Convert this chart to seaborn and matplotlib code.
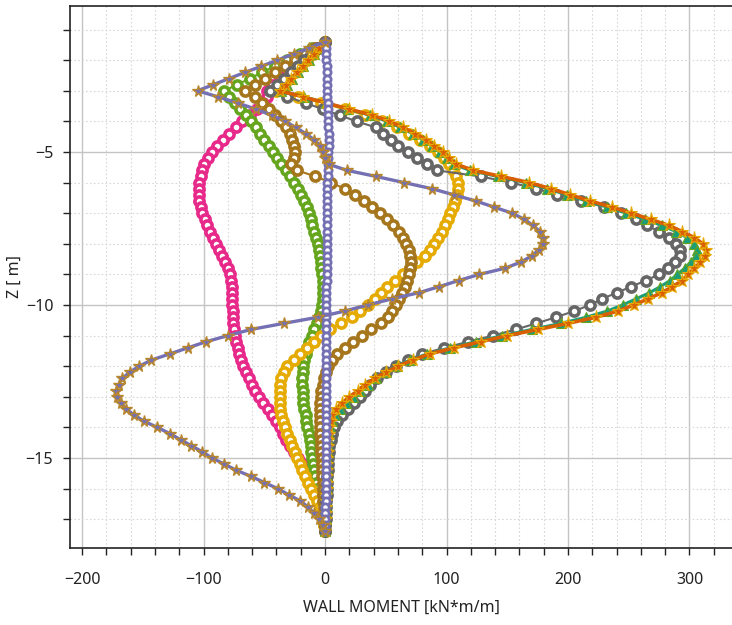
import matplotlib
matplotlib.use("Agg")
import matplotlib.pyplot as plt
from matplotlib.ticker import MultipleLocator
import seaborn as sns
import pandas as pd

sns.set_theme(style="white")
plt.rcParams['font.family'] = ['Noto Sans', 'DejaVu Sans']

# depth of the calculation points [m]
depth = [-1.4, -1.6, -1.8, -2.0, -2.2, -2.4, -2.6, -2.8, -3.0, -3.2,
         -3.4, -3.6, -3.8, -4.0, -4.2, -4.4, -4.6, -4.8, -5.0, -5.2,
         -5.4, -5.6, -5.8, -6.0, -6.2, -6.4, -6.6, -6.8, -7.0, -7.2,
         -7.4, -7.6, -7.8, -8.0, -8.2, -8.4, -8.6, -8.8, -9.0, -9.2,
         -9.4, -9.6, -9.8, -10.0, -10.2, -10.4, -10.6, -10.8, -11.0, -11.2,
         -11.4, -11.6, -11.8, -12.0, -12.2, -12.4, -12.6, -12.8, -13.0, -13.2,
         -13.4, -13.6, -13.8, -14.0, -14.2, -14.4, -14.6, -14.8, -15.0, -15.2,
         -15.4, -15.6, -15.8, -16.0, -16.2, -16.4, -16.6, -16.8, -17.0, -17.2,
         -17.4]

# wall moment for each phase [kN*m/m]
m_pink = [0, -6, -12.5, -19, -25, -31, -37.5, -44, -48, -48,
          -51, -56, -62, -68, -73.5, -79, -84, -89, -93, -96.5,
          -99.5, -101, -102.5, -103.5, -104, -104, -103.5, -102.5, -101, -99,
          -97, -95, -92.5, -90, -87, -84.5, -82, -80, -78.5, -77.5,
          -77, -76.5, -76.5, -76.5, -76, -76, -75.5, -75, -74, -73,
          -72, -71, -69.5, -67.5, -65, -62.5, -60, -57.5, -54.5, -51,
          -47, -43.5, -40.5, -37.5, -34.5, -32, -29, -26, -22, -18.5,
          -15.5, -13, -11, -9, -7, -5.5, -4, -2.8, -1.8, -0.8,
          0]

m_green = [0, -10.4, -20.8, -31, -41.5, -52, -62, -72.5, -83, -79,
           -74, -70, -65.5, -61, -57, -53.5, -50, -46.5, -43, -39.5,
           -36, -32.5, -29, -25.5, -22, -19.5, -17, -15, -13.5, -12,
           -10.5, -9, -7.5, -6, -5, -4, -3.5, -3, -2.5, -2,
           -1.8, -1.8, -2, -2.5, -3.5, -5, -7, -9, -11, -13,
           -14.5, -16, -17, -18, -18.5, -19, -19, -18.5, -18.5, -18,
           -17, -16, -15.5, -14.5, -13.5, -12.8, -12, -11.2, -10.5, -9.8,
           -9, -8.2, -7.5, -6.5, -5.5, -4.8, -4, -3, -2, -1,
           0]

m_yellow = [0, -5, -10, -15, -20, -25, -30, -35, -40, -22,
            -3, 16, 33, 47, 59, 69, 78, 86, 93, 98,
            102, 105, 108, 109.5, 109.5, 108.5, 107, 105, 103, 101,
            98.5, 96, 93, 90, 86, 82, 76, 70, 64, 57.5,
            51, 46, 41, 35, 29, 22, 13, 4, -3, -9,
            -15, -21, -26, -31, -34, -36, -37, -37.5, -37.5, -37.5,
            -37, -36, -34.5, -33, -31, -29, -27, -25, -23, -21,
            -19, -16.5, -14, -11.5, -9, -6.5, -4.5, -3, -1.6, -0.7,
            0]

m_brown = [0, -8, -16.5, -25, -33, -41.5, -49.5, -58, -66, -58,
           -52, -46, -41, -36, -32, -29, -27, -25.5, -25, -26,
           -28, -23, -8, 5, 16, 25, 32, 39, 45, 51,
           56, 60.5, 64, 67, 69, 70, 70.5, 70, 69, 67.5,
           65.5, 63, 60.5, 58, 55.5, 52, 46, 38, 30, 23,
           16, 10, 5.5, 2.5, 0.5, -1, -2, -3, -3.5, -4,
           -4, -4, -4, -4, -3.8, -3.5, -3.2, -3, -2.8, -2.6,
           -2.4, -2.2, -2, -1.8, -1.6, -1.4, -1.2, -0.9, -0.6, -0.3,
           0]

m_gray = [0, -5.6, -11.3, -17, -22.5, -28, -34, -39.5, -45, -31,
          -16, -2, 12, 26, 42, 48, 54, 60, 68, 76,
          84, 92, 128, 153, 174, 191, 211, 230, 244, 256,
          265, 275, 283, 289, 292, 292, 288, 282, 275, 264,
          252, 240, 228, 218, 205, 190, 174, 157, 138, 118,
          98, 80, 68, 58, 50, 43, 37, 33, 29, 24,
          19, 14, 10, 7, 5.5, 4.5, 3.5, 3, 2.6, 2.3,
          2, 1.8, 1.6, 1.4, 1.2, 1, 0.8, 0.6, 0.4, 0.2,
          0]

m_teal = [0, -4.5, -9, -13.5, -18, -22.5, -27, -31.5, -36, -17,
          1, 19, 37, 51, 62, 72, 81, 88, 95, 100,
          106, 119, 142, 165, 183, 199, 215, 232, 248, 263,
          277, 289, 298, 304, 306, 305, 301, 296, 290, 284,
          276, 267, 256, 245, 232, 215, 194, 170, 146, 124,
          103, 84, 70, 59, 50, 42, 35, 29, 23, 17,
          12, 8, 5.5, 4, 3.2, 2.7, 2.4, 2.1, 1.9, 1.7,
          1.5, 1.4, 1.3, 1.2, 1, 0.9, 0.8, 0.6, 0.4, 0.2,
          0]

m_orange = [0, -4.6, -9.3, -14, -18.5, -23, -28, -32, -37, -18,
            1, 20, 39, 53, 64, 74, 83, 90, 97, 102,
            108, 122, 145, 168, 186, 202, 218, 236, 252, 268,
            283, 294, 304, 311, 314, 313, 309, 304, 299, 294,
            286, 277, 266, 254, 241, 223, 200, 175, 150, 128,
            106, 86, 72, 60, 50, 41, 33, 27, 20, 14,
            9, 6, 4.5, 3.5, 3, 2.5, 2.2, 2, 1.8, 1.6,
            1.5, 1.4, 1.3, 1.2, 1, 0.9, 0.8, 0.6, 0.4, 0.2,
            0]

m_purple = [0, 0.5, 0.8, 1, 1.2, 1.3, 1.4, 1.5, 1.6, 1.8,
            2, 2.2, 2.4, 2.6, 2.8, 3, 3, 3, 2.8, 2.6,
            2.4, 2.2, 2, 1.9, 1.8, 1.7, 1.6, 1.5, 1.5, 1.4,
            1.4, 1.4, 1.3, 1.3, 1.3, 1.2, 1.2, 1.2, 1.2, 1.2,
            1.1, 1.1, 1.1, 1, 1, 1, 1, 1, 1, 1,
            1, 1, 1, 1, 1, 1, 1, 0.9, 0.9, 0.9,
            0.9, 0.9, 0.8, 0.8, 0.8, 0.8, 0.7, 0.7, 0.7, 0.7,
            0.6, 0.6, 0.5, 0.5, 0.4, 0.4, 0.3, 0.2, 0.2, 0.1,
            0]

m_star = [0, -13, -26, -39.5, -52.5, -66, -79, -92, -105, -88,
          -72, -57, -44, -33, -24, -16, -9, -4, -1.5, 0,
          3, 18, 42, 65, 88, 106, 124, 139, 154, 164,
          171, 177, 179, 179, 176, 170, 161, 148, 127, 110,
          94, 77, 55, 35, 16, -6, -34, -61, -80, -98,
          -113, -128, -143, -153, -161, -167, -170, -172, -171, -168,
          -164, -157, -149, -138, -128, -119, -110, -101, -93, -83,
          -73, -61, -50, -39, -30, -20.5, -14, -9, -5, -2,
          0]

fig = plt.figure(figsize=(7.32, 6.25), dpi=100)
ax = fig.add_axes([70 / 732, 1 - 548 / 625, 662 / 732, 542 / 625])

# hollow-marker series, drawn back to front
hollow = [
    (m_pink, '#e7298a'),
    (m_green, '#66a61e'),
    (m_yellow, '#e6ab02'),
    (m_brown, '#a6761d'),
    (m_gray, '#666666'),
]
for vals, col in hollow:
    df = pd.DataFrame({'M': vals, 'Z': depth})
    sns.lineplot(data=df, x='M', y='Z', sort=False, estimator=None, orient='y',
                 color=col, lw=1.5, marker='o', markersize=6.6,
                 markerfacecolor='white', markeredgecolor=col,
                 markeredgewidth=2.6, ax=ax)

df = pd.DataFrame({'M': m_teal, 'Z': depth})
sns.lineplot(data=df, x='M', y='Z', sort=False, estimator=None, orient='y',
             color='#1b9e77', lw=2.2, marker='^', markersize=6.5,
             markerfacecolor='#1b9e77', markeredgecolor='#66a61e',
             markeredgewidth=0.8, ax=ax)

df = pd.DataFrame({'M': m_orange, 'Z': depth})
sns.lineplot(data=df, x='M', y='Z', sort=False, estimator=None, orient='y',
             color='#d95f02', lw=2.6, marker='*', markersize=9.5,
             markerfacecolor='#d95f02', markeredgecolor='#e6ab02',
             markeredgewidth=0.8, ax=ax)

df = pd.DataFrame({'M': m_purple, 'Z': depth})
sns.lineplot(data=df, x='M', y='Z', sort=False, estimator=None, orient='y',
             color='#7570b3', lw=2, marker='o', markersize=5.2,
             markerfacecolor='white', markeredgecolor='#7570b3',
             markeredgewidth=2.0, ax=ax)

df = pd.DataFrame({'M': m_star, 'Z': depth})
sns.lineplot(data=df, x='M', y='Z', sort=False, estimator=None, orient='y',
             color='#7570b3', lw=2.4, marker='*', markersize=8.5,
             markerfacecolor='#7570b3', markeredgecolor='#b8862b',
             markeredgewidth=1.0, ax=ax)

ax.set_xlim(-210, 335)
ax.set_ylim(-17.94, -0.23)

ax.xaxis.set_major_locator(MultipleLocator(100))
ax.xaxis.set_minor_locator(MultipleLocator(20))
ax.yaxis.set_major_locator(MultipleLocator(5))
ax.yaxis.set_minor_locator(MultipleLocator(1))

ax.grid(which='major', color='#c4c4c4', lw=1.0, ls='-')
ax.grid(which='minor', color='#d8d8d8', lw=0.8, ls=(0, (1.5, 2)))
ax.set_axisbelow(True)

for side in ['left', 'bottom', 'top']:
    ax.spines[side].set_color('#222222')
    ax.spines[side].set_linewidth(1.2)
ax.spines['right'].set_visible(False)

ax.tick_params(which='both', direction='out', length=5, width=1, color='#222222',
               bottom=True, left=True, labelsize=11.5, labelcolor='#222222')
ax.tick_params(axis='x', pad=12)
ax.tick_params(axis='y', pad=7)

ax.set_xlabel('WALL MOMENT [kN*m/m]', fontsize=11.5, color='#222222', labelpad=9)
ax.set_ylabel('Z [ m]', fontsize=11.5, color='#222222', labelpad=2)
ax.legend([], frameon=False)

fig.savefig('out.png', dpi=100)
